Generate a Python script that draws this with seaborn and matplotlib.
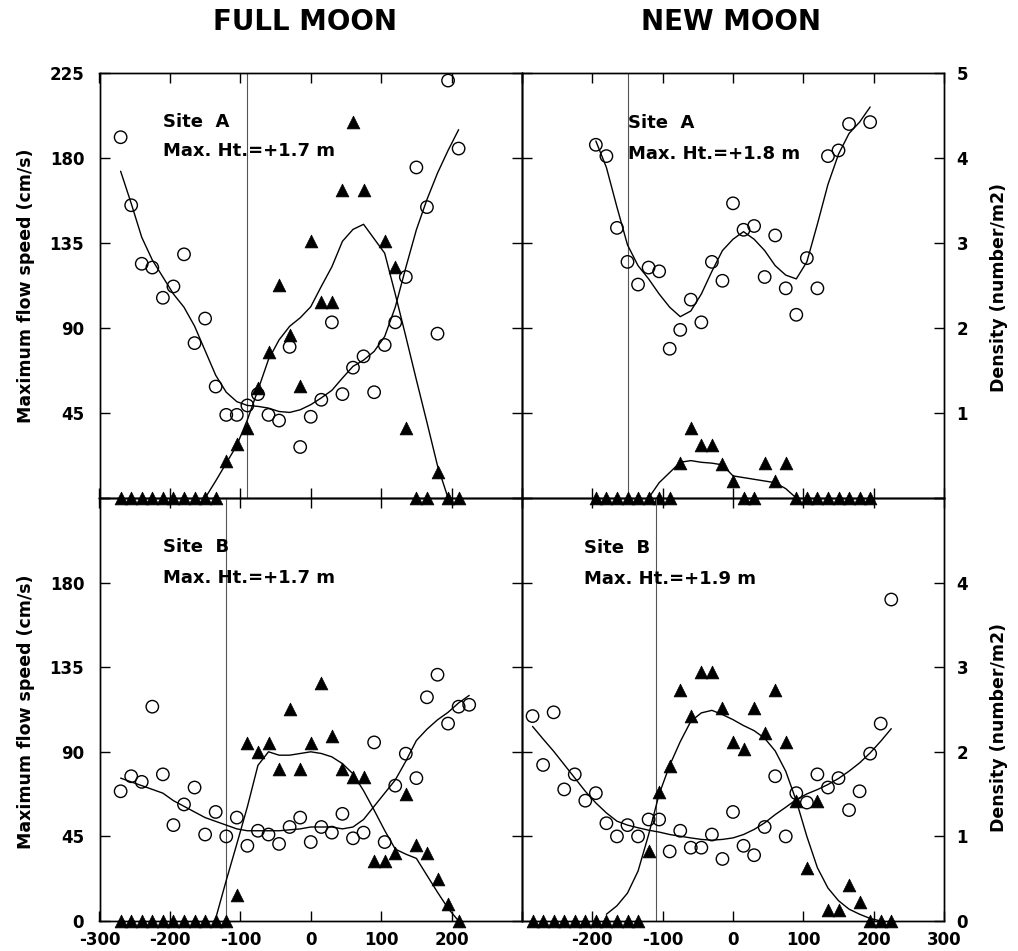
import numpy as np
import pandas as pd
import matplotlib
matplotlib.use("Agg")
import matplotlib.pyplot as plt
import seaborn as sns

sns.set_style("ticks")
plt.rcParams['font.family'] = ['DejaVu Sans']
plt.rcParams['font.weight'] = 'bold'
for k in ('text.color', 'axes.labelcolor', 'xtick.color', 'ytick.color', 'axes.edgecolor'):
    plt.rcParams[k] = 'black'

# ---------------- DATA ----------------
# Full moon, Site A
fmA_spd_x = [-270, -255, -240, -225, -210, -195, -180, -165, -150, -135, -120, -105, -90, -75, -60, -45,
             -30, -15, 0, 15, 30, 45, 60, 75, 90, 105, 120, 135, 150, 165, 180, 195, 210]
fmA_spd = [191, 155, 124, 122, 106, 112, 129, 82, 95, 59, 44, 44, 49, 55, 44, 41,
           80, 27, 43, 52, 93, 55, 69, 75, 56, 81, 93, 117, 175, 154, 87, 221, 185]
fmA_spd_fit = [173, 156, 138, 126, 117, 108, 101, 91, 78, 65, 56, 51, 49, 48.5, 47.6, 45.8,
               45.3, 46.7, 49.4, 53, 57, 63.5, 69.7, 73, 77.6, 85.5, 101, 122, 142, 158, 172, 184, 195]
fmA_den_x = [-270, -255, -240, -225, -210, -195, -180, -165, -150, -135, -120, -105, -90, -75, -60, -45,
             -30, -15, 0, 15, 30, 45, 60, 75, 105, 120, 135, 150, 165, 180, 195, 210]
fmA_den = [0, 0, 0, 0, 0, 0, 0, 0, 0, 0, 0.43, 0.63, 0.82, 1.29, 1.72, 2.51,
           1.92, 1.32, 3.02, 2.31, 2.31, 3.62, 4.42, 3.62, 3.02, 2.72, 0.82, 0, 0, 0.31, 0, 0]
fmA_den_fit_x = [-150, -135, -120, -105, -90, -75, -60, -45, -30, -15, 0, 15, 30, 45, 60, 75,
                 90, 105, 120, 135, 150, 165, 180, 195]
fmA_den_fit = [0, 0.20, 0.41, 0.62, 0.92, 1.27, 1.63, 1.86, 2.02, 2.12, 2.25, 2.49, 2.72, 3.02, 3.16, 3.22,
               3.05, 2.88, 2.40, 1.90, 1.39, 0.89, 0.38, 0]

# New moon, Site A
nmA_spd_x = [-195, -180, -165, -150, -135, -120, -105, -90, -75, -60, -45, -30, -15, 0, 15, 30,
             45, 60, 75, 90, 105, 120, 135, 150, 165, 195]
nmA_spd = [187, 181, 143, 125, 113, 122, 120, 79, 89, 105, 93, 125, 115, 156, 142, 144,
           117, 139, 111, 97, 127, 111, 181, 184, 198, 199]
nmA_fit_x = [-195, -180, -165, -150, -135, -120, -105, -90, -75, -60, -45, -30, -15, 0, 15, 30,
             45, 60, 75, 90, 105, 120, 135, 150, 165, 180, 195]
nmA_spd_fit = [189, 175, 154, 134, 123, 116, 108, 101, 96, 99, 108, 120, 131, 137, 141, 137,
               131, 123, 118, 116, 125, 145, 166, 182, 193, 199, 207]
nmA_den_x = [-195, -180, -165, -150, -135, -120, -105, -90, -75, -60, -45, -30, -15, 0, 15, 30,
             45, 60, 75, 90, 105, 120, 135, 150, 165, 180, 195]
nmA_den = [0, 0, 0, 0, 0, 0, 0, 0, 0.41, 0.82, 0.62, 0.62, 0.40, 0.20, 0, 0,
           0.41, 0.20, 0.41, 0, 0, 0, 0, 0, 0, 0, 0]
nmA_den_fit_x = [-120, -105, -90, -75, -60, -45, -30, -15, 0, 15, 30, 45, 60, 75, 90]
nmA_den_fit = [0, 0.18, 0.30, 0.42, 0.44, 0.42, 0.41, 0.39, 0.26, 0.24, 0.22, 0.20, 0.18, 0.11, 0]

# Full moon, Site B
fmB_spd_x = [-270, -255, -240, -225, -210, -195, -180, -165, -150, -135, -120, -105, -90, -75, -60, -45,
             -30, -15, 0, 15, 30, 45, 60, 75, 90, 105, 120, 135, 150, 165, 180, 195, 210, 225]
fmB_spd = [69, 77, 74, 114, 78, 51, 62, 71, 46, 58, 45, 55, 40, 48, 46, 41,
           50, 55, 42, 50, 47, 57, 44, 47, 95, 42, 72, 89, 76, 119, 131, 105, 114, 115]
fmB_spd_fit = [76, 74, 72, 70, 68, 64, 61, 58, 55, 53, 51, 49, 48, 48, 48, 48,
               48.5, 49, 50, 50, 50, 49, 50, 54, 61, 68, 75, 85, 96, 102, 107, 111, 116, 120]
fmB_den_x = [-270, -255, -240, -225, -210, -195, -180, -165, -150, -135, -120, -105, -90, -75, -60, -45,
             -30, -15, 0, 15, 30, 45, 60, 75, 90, 105, 120, 135, 150, 165, 180, 195, 210]
fmB_den = [0, 0, 0, 0, 0, 0, 0, 0, 0, 0, 0, 0.31, 2.10, 2.00, 2.10, 1.80,
           2.51, 1.80, 2.10, 2.81, 2.19, 1.80, 1.70, 1.70, 0.71, 0.71, 0.80, 1.50, 0.90, 0.80, 0.50, 0.20, 0]
fmB_den_fit_x = [-135, -120, -105, -90, -75, -60, -45, -30, -15, 0, 15, 30, 45, 60, 75, 90,
                 105, 120, 135, 150, 165, 180, 195, 210]
fmB_den_fit = [0.03, 0.48, 0.91, 1.35, 1.84, 2.00, 1.96, 1.96, 1.98, 2.00, 1.98, 1.94, 1.86, 1.74, 1.54, 1.31,
               1.07, 0.85, 0.79, 0.74, 0.54, 0.34, 0.15, 0]

# New moon, Site B
nmB_spd_x = [-285, -270, -255, -240, -225, -210, -195, -180, -165, -150, -135, -120, -105, -90, -75, -60,
             -45, -30, -15, 0, 15, 30, 45, 60, 75, 90, 105, 120, 135, 150, 165, 180, 195, 210, 225]
nmB_spd = [109, 83, 111, 70, 78, 64, 68, 52, 45, 51, 45, 54, 54, 37, 48, 39,
           39, 46, 33, 58, 40, 35, 50, 77, 45, 68, 63, 78, 71, 76, 59, 69, 89, 105, 171]
nmB_spd_fit = [103.5, 96.8, 90.3, 83.2, 76.1, 69, 62.8, 57.5, 53.1, 51, 49.6, 48.3, 47.3, 46, 45.1, 44.2,
               43.4, 43, 43.4, 44.2, 46, 48.7, 52.2, 56.6, 60.5, 64.6, 67.6, 69.9, 72.6, 75.8, 79.7, 84.1,
               89.4, 95.6, 102.3]
nmB_den_x = nmB_spd_x
nmB_den = [0, 0, 0, 0, 0, 0, 0, 0, 0, 0, 0, 0.83, 1.53, 1.83, 2.73, 2.42,
           2.94, 2.94, 2.52, 2.12, 2.03, 2.52, 2.22, 2.73, 2.12, 1.42, 0.63, 1.42, 0.13, 0.13, 0.43, 0.22,
           0, 0, 0]
nmB_den_fit_x = [-180, -165, -150, -135, -120, -105, -90, -75, -60, -45, -30, -15, 0, 15, 30, 45,
                 60, 75, 90, 105, 120, 135, 150, 165, 180, 195, 210]
nmB_den_fit = [0.08, 0.18, 0.33, 0.59, 1.02, 1.50, 1.84, 2.12, 2.36, 2.46, 2.49, 2.44, 2.38, 2.31, 2.25, 2.16,
               2.01, 1.77, 1.42, 1.00, 0.63, 0.39, 0.24, 0.14, 0.08, 0.03, 0]

ref_lines = [-90, -150, -120, -110]
site_labels = ["Site  A", "Site  A", "Site  B", "Site  B"]
height_labels = ["Max. Ht.=+1.7 m", "Max. Ht.=+1.8 m", "Max. Ht.=+1.7 m", "Max. Ht.=+1.9 m"]
column_titles = ["FULL MOON", "NEW MOON"]
x_ticks = [-300, -200, -100, 0, 100, 200, 300]
spd_ticks = [0, 45, 90, 135, 180, 225]
den_ticks = [0, 1, 2, 3, 4, 5]

panels = [
    (fmA_spd_x, fmA_spd, fmA_spd_x, fmA_spd_fit, fmA_den_x, fmA_den, fmA_den_fit_x, fmA_den_fit),
    (nmA_spd_x, nmA_spd, nmA_fit_x, nmA_spd_fit, nmA_den_x, nmA_den, nmA_den_fit_x, nmA_den_fit),
    (fmB_spd_x, fmB_spd, fmB_spd_x, fmB_spd_fit, fmB_den_x, fmB_den, fmB_den_fit_x, fmB_den_fit),
    (nmB_spd_x, nmB_spd, nmB_spd_x, nmB_spd_fit, nmB_den_x, nmB_den, nmB_den_fit_x, nmB_den_fit),
]

# ---------------- LAYOUT ----------------
W, H = 1018, 951
fig = plt.figure(figsize=(W / 100, H / 100), dpi=100)
xl = [99.5 / W, 522 / W]
wd = [(522 - 99.5) / W, (944 - 522) / W]
yb = [1 - 498 / H, 1 - 921 / H]
ht = [(498 - 73) / H, (921 - 498) / H]

text_pos = [(0.150, 0.873, 0.805), (0.252, 0.870, 0.797), (0.150, 0.873, 0.800), (0.147, 0.871, 0.797)]

for i, p in enumerate(panels):
    r, c = divmod(i, 2)
    ax = fig.add_axes([xl[c], yb[r], wd[c], ht[r]])
    ax2 = ax.twinx()
    ax.patch.set_visible(False)
    ax2.patch.set_visible(False)
    sx, sy, fx, fy, dx, dy, dfx, dfy = p

    ax.axvline(ref_lines[i], color="#555555", lw=0.8, zorder=1)
    sns.lineplot(x=fx, y=fy, ax=ax, color="black", lw=1.0, estimator=None, sort=False)
    sns.scatterplot(x=sx, y=sy, ax=ax, marker="o", s=80, facecolors="none",
                    edgecolor="black", linewidth=1.0, clip_on=False, zorder=3)
    sns.lineplot(x=dfx, y=dfy, ax=ax2, color="black", lw=1.0, estimator=None, sort=False)
    sns.scatterplot(x=dx, y=dy, ax=ax2, marker="^", s=85, color="black",
                    edgecolor="black", linewidth=0.5, clip_on=False, zorder=3)

    ax.set_xlim(-300, 300)
    ax.set_ylim(0, 225)
    ax2.set_ylim(0, 5)
    ax.set_xlabel("")
    ax.set_ylabel("")
    ax2.set_ylabel("")

    ax.set_xticks(x_ticks)
    ax.set_yticks(spd_ticks)
    ax2.set_yticks(den_ticks)

    if r == 1:
        labs = [str(t) for t in x_ticks]
        if c == 0:
            labs[-1] = ""
        else:
            labs[0] = ""
        ax.set_xticklabels(labs, fontsize=12, fontweight="bold")
    else:
        ax.set_xticklabels([""] * len(x_ticks))

    if c == 0:
        labs = [str(t) for t in spd_ticks]
        if r == 0:
            labs[0] = ""
        else:
            labs[-1] = ""
        ax.set_yticklabels(labs, fontsize=12, fontweight="bold")
        ax2.set_yticklabels([""] * len(den_ticks))
    else:
        ax.set_yticklabels([""] * len(spd_ticks))
        labs = [str(t) for t in den_ticks]
        if r == 0:
            labs[0] = ""
        else:
            labs[-1] = ""
        ax2.set_yticklabels(labs, fontsize=12, fontweight="bold")

    ax.tick_params(axis="x", direction="in", length=7, width=1, top=True, bottom=True, pad=7)
    ax.tick_params(axis="y", direction="in", length=7, width=1, left=True, right=False, pad=11)
    ax2.tick_params(axis="y", direction="in", length=7, width=1, right=True, left=False, pad=9)
    for a in (ax, ax2):
        for s in a.spines.values():
            s.set_linewidth(1.0)
            s.set_color("black")

    tx, ty1, ty2 = text_pos[i]
    ax.text(tx, ty1, site_labels[i], transform=ax.transAxes, fontsize=13, fontweight="bold",
            ha="left", va="baseline")
    ax.text(tx, ty2, height_labels[i], transform=ax.transAxes, fontsize=13, fontweight="bold",
            ha="left", va="baseline")

fig.text(305 / W, 1 - 22 / H, column_titles[0], ha="center", va="center", fontsize=20, fontweight="bold")
fig.text(731 / W, 1 - 22 / H, column_titles[1], ha="center", va="center", fontsize=20, fontweight="bold")

for yc in (286, 712):
    fig.text(26 / W, 1 - yc / H, "Maximum flow speed (cm/s)", rotation=90, ha="center", va="center",
             fontsize=12.5, fontweight="bold")
for yc in (287, 727):
    fig.text(999 / W, 1 - yc / H, "Density (number/m2)", rotation=90, ha="center", va="center",
             fontsize=12.5, fontweight="bold")

fig.savefig("out.png", dpi=100)
